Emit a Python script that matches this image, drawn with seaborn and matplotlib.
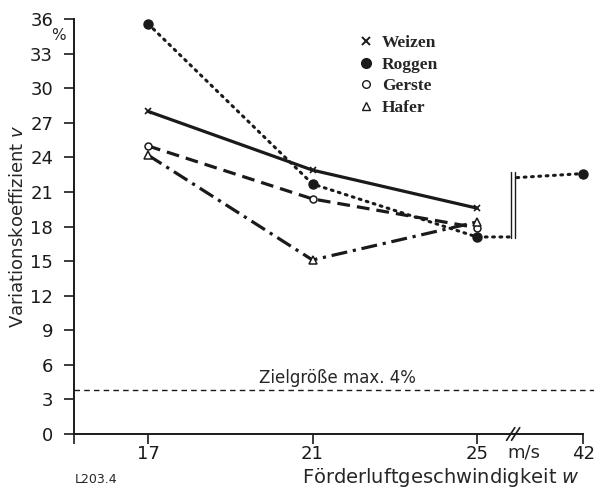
import matplotlib
matplotlib.use("Agg")
import matplotlib.pyplot as plt
import seaborn as sns
from matplotlib.lines import Line2D

geschw = [17, 21, 25]
weizen = [28.0, 22.9, 19.6]
roggen = [35.6, 21.7, 17.1]
gerste = [25.0, 20.4, 17.9]
hafer = [24.2, 15.1, 18.4]
roggen_42 = 22.6  # Wert bei 42 m/s
ziel = 3.8

# Lage der Achsenunterbrechung / des 42er-Punkts auf der Achse
x0 = 15.2
x_bruch = 25.88
x_42 = 27.58

sns.set_theme(style="white")
plt.rcParams['font.family'] = ['DejaVu Sans']

fig = plt.figure(figsize=(5.94, 4.88), dpi=100)
ax = fig.add_axes([0.1246, 0.1107, 0.857, 0.850])

lw = 2.3
dots = (0, (0.6, 1.8))
sns.lineplot(x=geschw, y=weizen, ax=ax, color='k', lw=lw, ls='-',
             marker='x', ms=5, mew=1.2, mec='k', sort=False)
sns.lineplot(x=geschw + [x_bruch - 0.07], y=roggen + [roggen[-1]], ax=ax,
             color='k', lw=2.2, ls=dots, dash_capstyle='round', sort=False)
ax.plot(geschw, roggen, ls='none', marker='o', ms=6.5, color='k')
sns.lineplot(x=[x_bruch + 0.09, x_42], y=[roggen_42 - 0.35, roggen_42], ax=ax,
             color='k', lw=2.2, ls=dots, dash_capstyle='round', sort=False)
ax.plot([x_42], [roggen_42], ls='none', marker='o', ms=6.5, color='k', clip_on=False)
sns.lineplot(x=geschw, y=gerste, ax=ax, color='k', lw=lw, ls=(0, (4, 2.2)),
             marker='o', ms=5, mfc='white', mec='k', mew=1.1, sort=False)
sns.lineplot(x=geschw, y=hafer, ax=ax, color='k', lw=lw, ls=(0, (5, 1.8, 1, 1.8)),
             marker='^', ms=5.5, mfc='white', mec='k', mew=1.1, sort=False)

# Doppelstrich am Sprung
for dx in (-0.045, 0.045):
    ax.plot([x_bruch + dx] * 2, [roggen[-1] - 0.1, roggen_42 + 0.1], color='k', lw=1)

# Zielgröße
ax.plot([x0, 27.85], [ziel, ziel], color='k', lw=1, ls=(0, (4, 3)), clip_on=False)
ax.text(21.6, 4.45, "Zielgröße max. 4%", fontsize=12, ha='center', va='baseline')

ax.set_xlim(x0, x_42)
ax.set_ylim(0, 36)
ax.set_yticks(range(0, 37, 3))
ax.set_xticks([x0, 17, 21, 25, x_42])
ax.set_xticklabels(["", "17", "21", "25", "42"])
ax.tick_params(axis='both', direction='out', length=7, width=1.2, colors='k',
               labelsize=13, bottom=True, left=True)
ax.tick_params(axis='x', pad=1)
ax.tick_params(axis='y', pad=8)
for s in ('top', 'right'):
    ax.spines[s].set_visible(False)
for s in ('left', 'bottom'):
    ax.spines[s].set_color('k')
    ax.spines[s].set_linewidth(1.4)

# Achsenbruch //
for dx in (-0.06, 0.06):
    ax.plot([x_bruch - 0.1 + dx, x_bruch + 0.1 + dx], [-0.55, 0.55], color='k',
            lw=1.2, clip_on=False)
ax.text(26.13, -0.85, "m/s", fontsize=13, ha='center', va='top')

fig.text(0.098, 0.927, "%", fontsize=11, ha='center', va='center')
ax.set_ylabel("Variationskoeffizient $v$", fontsize=13, labelpad=2)
fig.text(0.742, 0.0205, "Förderluftgeschwindigkeit $w$", fontsize=14,
         ha='center', va='center')
fig.text(0.125, 0.01, "L203.4", fontsize=9)

handles = [
    Line2D([], [], ls='none', marker='x', ms=5.5, mew=1.4, color='k'),
    Line2D([], [], ls='none', marker='o', ms=7, color='k'),
    Line2D([], [], ls='none', marker='o', ms=5.5, mfc='white', mec='k'),
    Line2D([], [], ls='none', marker='^', ms=6, mfc='white', mec='k'),
]
leg = ax.legend(handles, ["Weizen", "Roggen", "Gerste", "Hafer"],
                loc='upper left', bbox_to_anchor=(0.533, 1.0), frameon=False,
                handlelength=0.6, handletextpad=0.6, labelspacing=0.32,
                prop={'family': 'Liberation Serif', 'weight': 'bold', 'size': 12.5})

fig.savefig("out.png", dpi=100)
